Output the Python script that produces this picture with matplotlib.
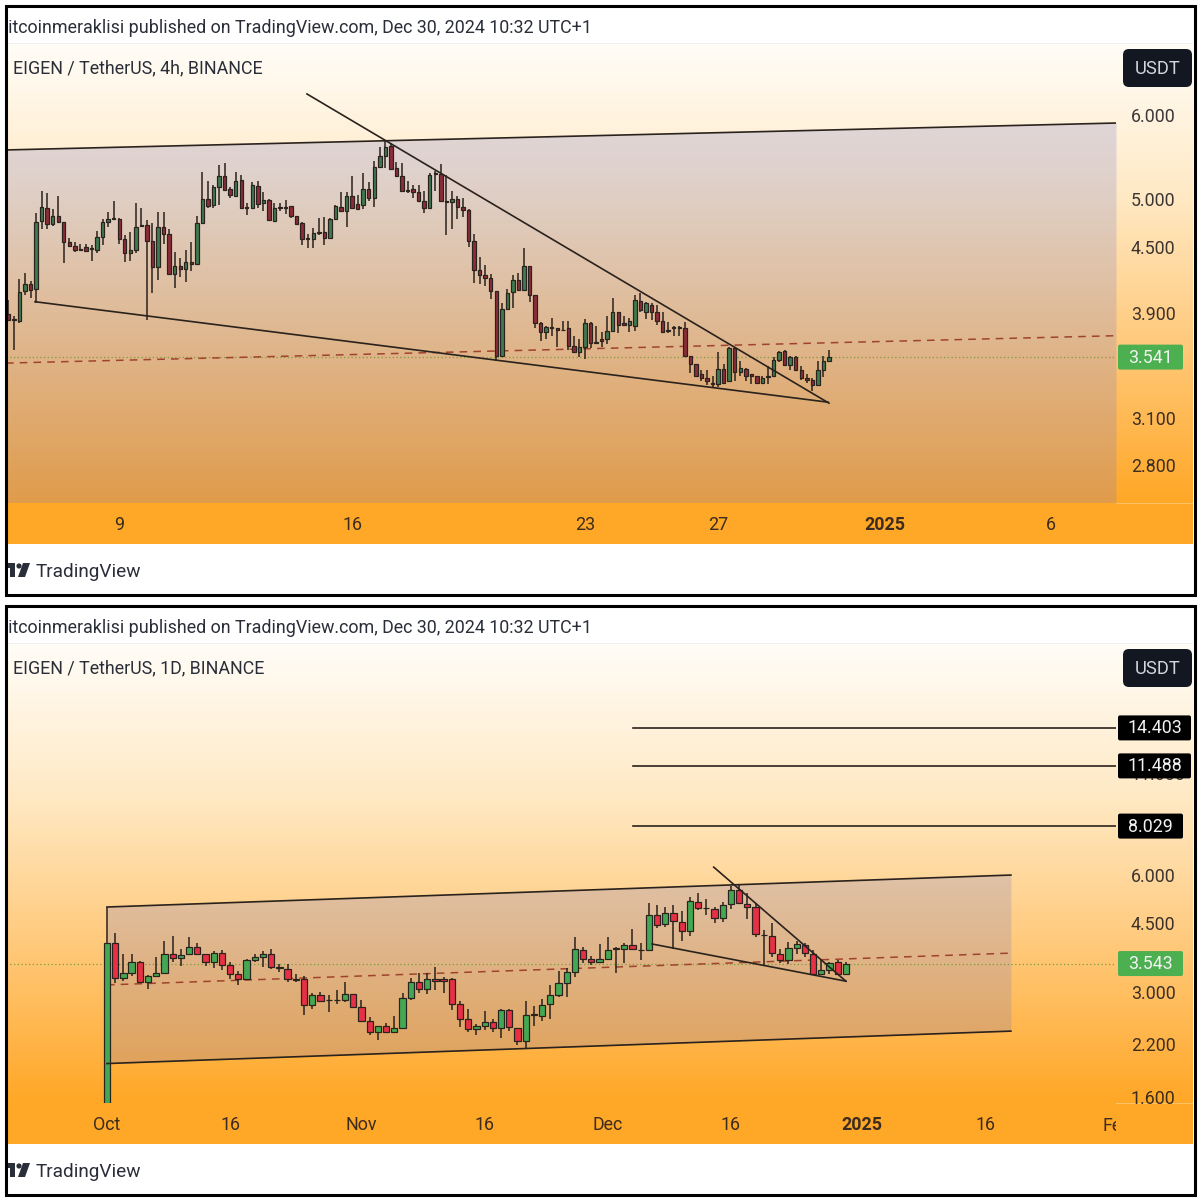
import numpy as np
import matplotlib
matplotlib.use("Agg")
import matplotlib.pyplot as plt
from matplotlib.patches import Rectangle, FancyBboxPatch, Polygon, Circle
from matplotlib.transforms import IdentityTransform, Bbox
from matplotlib.ticker import FixedLocator, NullLocator, FixedFormatter
from matplotlib.colors import LinearSegmentedColormap

plt.rcParams['font.family'] = ['Roboto', 'DejaVu Sans']

# ---------- 4h chart values ----------
h4_open = [3.89,3.85,3.83,4.09,4.15,4.11,4.76,4.90,4.73,4.82,
 4.75,4.55,4.51,4.485,4.50,4.49,4.47,4.60,4.75,4.78,
 4.78,4.58,4.44,4.47,4.72,4.72,4.56,4.31,4.70,4.63,
 4.24,4.32,4.29,4.36,4.34,4.74,5.00,4.93,5.13,5.25,
 5.11,5.03,5.21,4.91,4.90,5.14,4.95,4.99,4.76,4.91,
 4.91,4.92,4.82,4.74,4.59,4.58,4.65,4.65,4.59,4.78,
 4.91,4.87,5.03,4.94,4.93,5.11,5.01,5.36,5.49,5.61,
 5.34,5.25,5.10,5.11,5.07,4.98,4.90,5.29,5.28,4.97,
 4.96,5.00,4.91,4.88,4.56,4.28,4.23,4.21,4.09,3.55,
 3.93,4.08,4.19,4.10,4.32,4.05,3.81,3.74,3.78,3.77,
 3.76,3.77,3.63,3.58,3.62,3.81,3.66,3.68,3.68,3.75,
 3.91,3.81,3.80,3.79,4.00,3.91,3.97,3.91,3.83,3.76,
 3.78,3.78,3.77,3.55,3.49,3.41,3.38,3.35,3.34,3.45,
 3.36,3.61,3.43,3.45,3.41,3.40,3.35,3.40,3.40,3.52,
 3.59,3.48,3.54,3.44,3.38,3.37,3.33,3.44,3.51]
h4_close = [3.84,3.84,4.08,4.15,4.10,4.75,4.91,4.73,4.82,4.75,
 4.55,4.51,4.47,4.475,4.46,4.48,4.60,4.75,4.78,4.79,
 4.58,4.44,4.47,4.70,4.71,4.56,4.31,4.70,4.63,4.24,
 4.32,4.29,4.36,4.34,4.74,5.00,4.92,5.13,5.25,5.10,
 5.04,5.20,4.90,4.90,5.15,4.94,4.99,4.77,4.90,4.90,
 4.90,4.81,4.73,4.58,4.58,4.64,4.64,4.59,4.78,4.92,
 4.87,5.03,4.90,4.89,5.11,5.01,5.36,5.49,5.60,5.33,
 5.25,5.09,5.09,5.07,4.98,4.90,5.27,5.28,4.97,4.96,
 5.00,4.91,4.88,4.56,4.28,4.23,4.21,4.09,3.55,3.93,
 4.07,4.19,4.10,4.32,4.05,3.81,3.74,3.78,3.77,3.76,
 3.755,3.63,3.58,3.62,3.81,3.65,3.65,3.67,3.75,3.91,
 3.80,3.80,3.83,4.01,3.92,3.98,3.91,3.83,3.74,3.75,
 3.77,3.77,3.55,3.49,3.40,3.38,3.36,3.34,3.45,3.35,
 3.61,3.43,3.46,3.40,3.40,3.35,3.38,3.39,3.52,3.58,
 3.48,3.54,3.44,3.38,3.37,3.33,3.44,3.51,3.541]
h4_high = [4.01,3.87,4.20,4.25,4.18,4.85,5.08,5.06,4.89,5.03,
 4.75,4.59,4.55,4.53,4.53,4.52,4.66,4.78,4.86,4.98,
 4.79,4.62,4.65,4.95,4.90,4.77,4.74,4.86,4.86,4.68,
 4.45,4.39,4.47,4.55,4.81,5.30,5.20,5.15,5.38,5.40,
 5.13,5.30,5.27,4.95,5.19,5.20,5.07,5.00,4.95,4.95,
 4.99,4.92,4.82,4.75,4.63,4.69,4.79,4.80,4.79,4.93,
 5.07,5.07,5.25,5.04,5.29,5.18,5.43,5.60,5.67,5.64,
 5.42,5.41,5.20,5.15,5.15,5.08,5.29,5.31,5.39,5.27,
 5.09,5.03,5.01,4.89,4.63,4.40,4.33,4.24,4.09,3.98,
 4.11,4.23,4.25,4.49,4.32,4.05,3.82,3.79,3.86,3.77,
 3.83,3.83,3.71,3.68,3.85,3.82,3.79,3.74,3.87,4.03,
 3.91,3.87,3.86,4.05,4.07,3.99,3.98,3.97,3.91,3.82,
 3.79,3.79,3.82,3.55,3.49,3.44,3.44,3.40,3.58,3.49,
 3.62,3.62,3.51,3.46,3.41,3.40,3.40,3.47,3.54,3.59,
 3.60,3.55,3.55,3.47,3.41,3.38,3.51,3.55,3.60]
h4_low = [3.83,3.60,3.81,4.05,4.03,3.98,4.68,4.68,4.71,4.74,
 4.35,4.50,4.45,4.47,4.46,4.37,4.44,4.52,4.70,4.78,
 4.53,4.36,4.37,4.44,4.70,3.84,4.07,4.19,4.53,4.24,
 4.12,4.22,4.17,4.27,4.34,4.73,4.90,4.90,4.93,5.10,
 5.01,5.03,4.89,4.83,4.90,4.90,4.87,4.77,4.75,4.87,
 4.84,4.79,4.73,4.52,4.49,4.49,4.62,4.52,4.59,4.78,
 4.87,4.70,4.90,4.88,4.89,4.97,4.91,5.36,5.35,5.33,
 5.24,5.08,5.06,5.01,4.97,4.85,4.90,5.09,4.97,4.62,
 4.68,4.78,4.80,4.50,4.16,4.15,4.13,4.02,3.51,3.55,
 3.92,3.94,4.10,4.10,3.99,3.77,3.67,3.68,3.71,3.62,
 3.75,3.60,3.57,3.54,3.53,3.61,3.64,3.62,3.64,3.74,
 3.73,3.79,3.74,3.75,3.91,3.85,3.84,3.80,3.74,3.73,
 3.71,3.71,3.54,3.42,3.39,3.36,3.33,3.31,3.32,3.34,
 3.36,3.36,3.40,3.36,3.34,3.34,3.34,3.34,3.40,3.50,
 3.47,3.44,3.44,3.37,3.35,3.29,3.33,3.39,3.51]

h4_xticks = [20, 62, 104, 128, 158, 188]
h4_xlabels = ['9', '16', '23', '27', '2025', '6']
h4_yticks = [6.0, 5.0, 4.5, 3.9, 3.1, 2.8]
h4_last = 3.541
h4_channel_x = [-0.42, 199.76]
h4_channel_top = [5.56, 5.896]
h4_falling_x = [53.86, 148.0]
h4_falling_y = [6.281, 3.203]
h4_wedge_x = [4.81, 147.8]
h4_wedge_y = [3.995, 3.21]
h4_dashed_x = [-0.42, 199.76]
h4_dashed_y = [3.495, 3.71]

# ---------- 1D chart values ----------
d1_open = [1.50,4.01,3.25,3.35,3.58,3.18,3.29,3.35,3.74,3.67,
 3.74,3.92,3.75,3.57,3.78,3.51,3.32,3.24,3.61,3.69,
 3.75,3.47,3.43,3.23,3.24,2.77,2.94,2.86,2.86,2.85,
 2.95,2.74,2.52,2.36,2.44,2.36,2.41,2.88,3.18,3.04,
 3.24,3.23,3.24,2.79,2.55,2.40,2.44,2.50,2.41,2.69,
 2.42,2.23,2.62,2.60,2.78,2.93,3.16,3.37,3.85,3.64,
 3.57,3.64,3.88,3.86,3.96,3.85,3.84,4.73,4.47,4.78,
 4.55,4.30,5.12,4.93,4.90,4.64,5.04,5.49,5.06,4.96,
 4.21,4.17,3.76,3.61,3.89,3.96,3.76,3.33,3.41,3.57,3.33]
d1_close = [4.01,3.26,3.34,3.58,3.18,3.29,3.35,3.74,3.67,3.73,
 3.92,3.75,3.57,3.78,3.51,3.32,3.24,3.61,3.69,3.75,
 3.47,3.45,3.23,3.22,2.77,2.94,2.84,2.85,2.85,2.95,
 2.74,2.52,2.36,2.45,2.36,2.41,2.88,3.18,3.04,3.24,
 3.20,3.20,2.79,2.55,2.40,2.44,2.50,2.41,2.69,2.43,
 2.23,2.61,2.61,2.77,2.93,3.16,3.37,3.86,3.64,3.57,
 3.64,3.84,3.87,3.96,3.86,3.84,4.73,4.46,4.78,4.56,
 4.31,5.13,4.92,4.92,4.64,5.02,5.49,5.07,4.97,4.23,
 4.19,3.78,3.61,3.89,3.97,3.78,3.33,3.40,3.56,3.33,3.543]
d1_high = [4.96,4.26,3.74,3.74,3.60,3.31,3.68,4.05,4.17,3.86,
 4.14,4.01,3.75,3.81,3.83,3.58,3.39,3.63,3.74,3.81,
 3.86,3.54,3.53,3.32,3.29,2.98,2.99,2.93,3.02,3.18,
 2.96,2.85,2.57,2.45,2.49,2.59,2.98,3.26,3.34,3.34,
 3.47,3.27,3.26,2.84,2.70,2.47,2.67,2.54,2.71,2.70,
 2.42,2.83,2.75,2.87,3.11,3.38,3.45,4.16,3.92,3.70,
 3.97,4.14,3.92,4.00,4.34,4.00,5.09,5.02,4.97,5.02,
 4.85,5.27,5.40,5.20,4.97,5.12,5.62,5.65,5.39,5.07,
 4.32,4.50,3.86,4.03,4.05,4.00,3.84,3.62,3.58,3.62,3.58]
d1_low = [1.45,3.16,3.20,3.29,3.18,3.05,3.29,3.35,3.58,3.49,
 3.72,3.74,3.50,3.46,3.41,3.24,3.11,3.24,3.57,3.47,
 3.44,3.37,3.17,3.17,2.61,2.71,2.82,2.66,2.79,2.82,
 2.74,2.50,2.31,2.25,2.34,2.35,2.41,2.86,2.97,2.95,
 3.02,2.97,2.69,2.43,2.36,2.31,2.39,2.36,2.28,2.37,
 2.18,2.14,2.44,2.52,2.54,2.90,2.90,3.27,3.56,3.51,
 3.56,3.62,3.35,3.55,3.83,3.62,3.83,4.37,4.41,3.86,
 4.06,4.17,4.87,4.73,4.50,4.55,4.89,5.05,4.61,4.14,
 3.51,3.68,3.56,3.53,3.74,3.68,3.31,3.31,3.33,3.31,3.31]

d1_xticks = [0, 15, 31, 46, 61, 76, 92, 107]
d1_xlabels = ['Oct', '16', 'Nov', '16', 'Dec', '16', '2025', '16']
d1_yticks = [11.0, 6.0, 4.5, 3.0, 2.2, 1.6]
d1_last = 3.543
d1_channel_x = [0.0, 110.1]
d1_channel_top = [4.96, 6.0]
d1_channel_bottom = [1.954, 2.37]
d1_falling_x = [73.9, 90.0]
d1_falling_y = [6.29, 3.19]
d1_wedge_x = [66.4, 90.0]
d1_wedge_y = [3.98, 3.19]
d1_dashed_x = [0.0, 110.1]
d1_dashed_y = [3.12, 3.77]
d1_fib_levels = [14.403, 11.488, 8.029]
d1_fib_start = 64.07

W = 1200
ORANGE = '#FFA726'
INK = '#2a2e39'
TICK = (0.10, 0.09, 0.11, 0.85)
LINE = '#2a221c'
fig = plt.figure(figsize=(12, 12), dpi=100, facecolor='white')
grad = LinearSegmentedColormap.from_list('g', ['#FFFDF8', '#FFE9C4', '#FFC878', ORANGE], N=512)


def px_axes(x0, y0, x1, y1, **kw):
    return fig.add_axes([x0 / W, 1 - y1 / W, (x1 - x0) / W, (y1 - y0) / W], **kw)


def ftext(x, y, s, clip=None, **kw):
    t = fig.text(x, W - y, s, transform=IdentityTransform(), **kw)
    if clip is not None:
        t.set_clip_box(Bbox([[clip, 0], [W, W]]))
        t.set_clip_on(True)
    return t


def candles(ax, o, h, l, c, width, up, down, lw):
    o, h, l, c = map(np.asarray, (o, h, l, c))
    x = np.arange(len(o))
    ax.vlines(x, l, h, color=LINE, lw=lw, zorder=3)
    bottom = np.minimum(o, c)
    height = np.abs(c - o)
    cols = [up if cc >= oo else down for oo, cc in zip(o, c)]
    ax.bar(x, height, bottom=bottom, width=width, color=cols, edgecolor=LINE, linewidth=lw * 0.8, zorder=4)


def panel(top, bottom, hdr, pair, o, h, l, c, ylim, xlim, yt, xt, xl, last, w, up, down, lw):
    off = top - 4
    plot_bottom = 503 + off
    bg = px_axes(6, 44 + off, 1193, plot_bottom)
    bg.imshow(np.linspace(0, 1, 512)[:, None], cmap=grad, aspect='auto', vmin=0, vmax=1)
    bg.axis('off')
    fig.add_artist(Rectangle((6, W - 544 - off), 1187, 41, transform=IdentityTransform(), fc=ORANGE, ec='none', zorder=0.5))
    fig.add_artist(Rectangle((1116, W - 503.5 - off), 77, 1, transform=IdentityTransform(), fc='#FFC265', ec='none', zorder=0.6))
    fig.add_artist(Rectangle((6, W - 44 - off), 1187, 1, transform=IdentityTransform(), fc='#f0f0f0', ec='none', zorder=0.5))

    ax = px_axes(6, 46 + off, 1116, plot_bottom, facecolor='none', zorder=2)
    ax.set_yscale('log')
    ax.set_xlim(*xlim)
    ax.set_ylim(*ylim)
    for s in ax.spines.values():
        s.set_visible(False)
    ax.yaxis.tick_right()
    ax.yaxis.set_major_locator(FixedLocator(yt))
    ax.yaxis.set_major_formatter(FixedFormatter([f'{v:.3f}' for v in yt]))
    ax.yaxis.set_minor_locator(NullLocator())
    ax.tick_params(axis='y', length=0, pad=10.6, labelsize=12.8, labelcolor=TICK)
    ax.set_xticks([])
    candles(ax, o, h, l, c, w, up, down, lw)
    ax.axhline(last, color='#7d9a3c', lw=0.9, ls=(0, (1, 2)), zorder=2.5)

    strip = px_axes(6, plot_bottom, 1116, 544 + off, facecolor=ORANGE, zorder=3)
    strip.set_xlim(*xlim)
    strip.set_yticks([])
    for s in strip.spines.values():
        s.set_visible(False)
    strip.set_xticks(xt)
    strip.set_xticklabels(xl, fontsize=12.9, color=TICK)
    strip.tick_params(axis='x', length=0, top=True, bottom=False, labeltop=True, labelbottom=False, pad=-22)
    for lab in strip.get_xticklabels():
        if lab.get_text() == '2025':
            lab.set_fontweight('bold')

    ftext(-2, 28 + off, hdr, clip=7, fontsize=12.9, color=INK, va='center', ha='left')
    ftext(13, 68 + off, pair, fontsize=12.9, color=INK, va='center', ha='left')
    ftext(36, 572 + off, 'TradingView', fontsize=13.7, color=INK, va='center', ha='left')
    # clipped logo
    fy = lambda y: W - y - off
    fig.add_artist(Polygon([(7, fy(563)), (15, fy(563)), (15, fy(577)), (10, fy(577)), (10, fy(568)), (7, fy(568))],
                           transform=IdentityTransform(), fc=INK, ec='none'))
    fig.add_artist(Circle((19, fy(566)), 2.6, transform=IdentityTransform(), fc=INK, ec='none'))
    fig.add_artist(Polygon([(23, fy(563)), (30, fy(563)), (25, fy(577)), (18, fy(577))],
                           transform=IdentityTransform(), fc=INK, ec='none'))
    # USDT badge
    fig.add_artist(FancyBboxPatch((1125, W - 85 - off), 65, 34, boxstyle='round,pad=2,rounding_size=6',
                                  transform=IdentityTransform(), fc='#131722', ec='none'))
    ftext(1158, 69 + off, 'USDT', fontsize=13.2, color='#d4d6dc', ha='center', va='center')
    # frame
    fig.add_artist(Rectangle((5.5, W - bottom + 1.5), 1189, bottom - top - 3, transform=IdentityTransform(),
                             fc='none', ec='black', lw=2.2, zorder=6))
    return ax, strip


def badge(ax, price, text, fc, w):
    y = ax.transData.transform((0, price))[1]
    fig.add_artist(FancyBboxPatch((1119, y - 11.5), w - 2, 23, boxstyle='round,pad=1,rounding_size=2',
                                  transform=IdentityTransform(), fc=fc, ec='none', zorder=5))
    t = fig.text(1118 + w / 2, y - 0.5, text, transform=IdentityTransform(), fontsize=12.8, color='#f2f2f2',
                 ha='center', va='center', zorder=5.5)
    return t


HDR = 'bitcoinmeraklisi published on TradingView.com, Dec 30, 2024 10:32 UTC+1'
FILL = '#7878C8'

# --- 4h panel ---
ax1, s1 = panel(4, 596, HDR, 'EIGEN / TetherUS, 4h, BINANCE', h4_open, h4_high, h4_low, h4_close,
                (2.577, 6.973), (-0.42, 199.76), h4_yticks, h4_xticks, h4_xlabels, h4_last,
                0.62, '#3F7A50', '#8E2B3B', 1.1)
ax1.fill_between(h4_channel_x, h4_channel_top, 2.577, color=FILL, alpha=0.23, lw=0, zorder=1)
ax1.plot(h4_channel_x, h4_channel_top, color=LINE, lw=1.2, zorder=5)
ax1.plot(h4_falling_x, h4_falling_y, color=LINE, lw=1.2, zorder=5)
ax1.plot(h4_wedge_x, h4_wedge_y, color=LINE, lw=1.2, zorder=5)
ax1.plot(h4_dashed_x, h4_dashed_y, color='#a0432e', lw=1.1, ls=(0, (5, 4)), zorder=2.6)
badge(ax1, h4_last, f'{h4_last:.3f}', '#4CAF50', 65)

# --- 1D panel ---
ax2, s2 = panel(604, 1196, HDR, 'EIGEN / TetherUS, 1D, BINANCE', d1_open, d1_high, d1_low, d1_close,
                (1.545, 23.45), (-12.3, 122.9), d1_yticks, d1_xticks, d1_xlabels, d1_last,
                0.76, '#43A853', '#E53045', 1.1)
ax2.fill_between(d1_channel_x, d1_channel_top, d1_channel_bottom, color=FILL, alpha=0.23, lw=0, zorder=1)
ax2.plot(d1_channel_x, d1_channel_top, color=LINE, lw=1.2, zorder=5)
ax2.plot(d1_channel_x, d1_channel_bottom, color=LINE, lw=1.2, zorder=5)
ax2.plot(d1_falling_x, d1_falling_y, color=LINE, lw=1.2, zorder=5)
ax2.plot(d1_wedge_x, d1_wedge_y, color=LINE, lw=1.2, zorder=5)
ax2.plot(d1_dashed_x, d1_dashed_y, color='#a0432e', lw=1.1, ls=(0, (5, 4)), zorder=2.6)
for lv in d1_fib_levels:
    ax2.plot([d1_fib_start, 122.9], [lv, lv], color=LINE, lw=1.2, zorder=5)
    badge(ax2, lv, f'{lv:.3f}', 'black', 73 if lv > 10 else 65)
badge(ax2, d1_last, f'{d1_last:.3f}', '#4CAF50', 65)
s2.text(123, 0.44, 'Feb', fontsize=12.9, color=TICK, ha='center', va='center',
        transform=s2.get_xaxis_transform(), clip_on=True)

fig.savefig('out.png', dpi=100)
